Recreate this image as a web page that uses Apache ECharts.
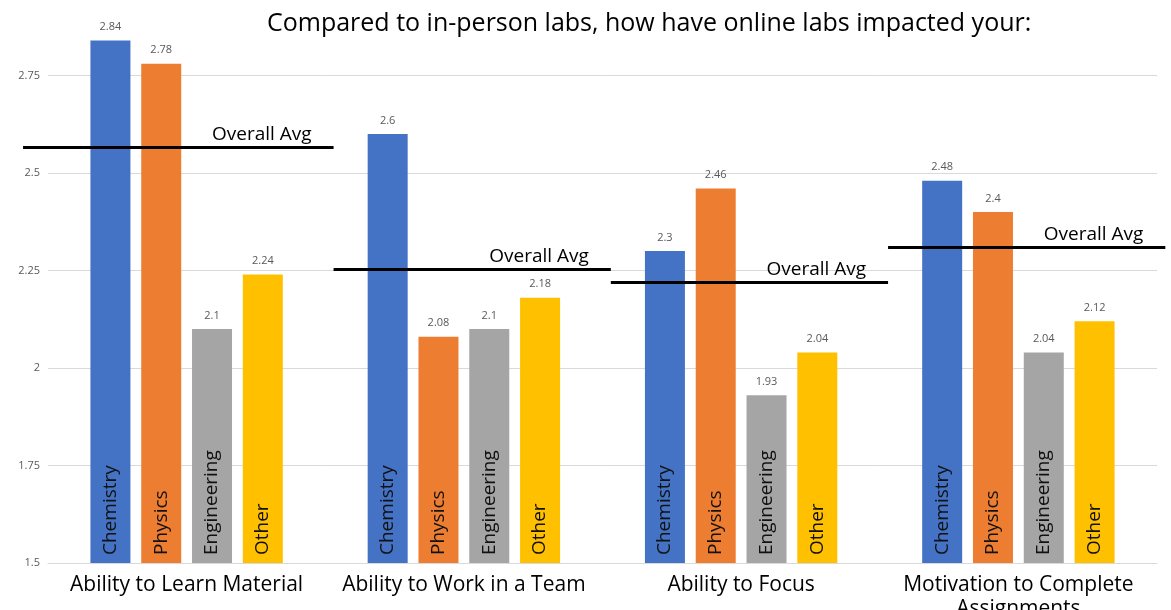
<!DOCTYPE html>
<html>
<head>
<meta charset="utf-8">
<script src="https://cdn.jsdelivr.net/npm/echarts@6/dist/echarts.min.js"></script>
<style>
  html, body { margin: 0; padding: 0; background: #fff; }
  #main { width: 1171px; height: 610px; }
</style>
</head>
<body>
<div id="main"></div>
<script>
// categories and values
var questions = ['Ability to Learn Material', 'Ability to Work in a Team', 'Ability to Focus', 'Motivation to Complete\nAssignments'];
var subjects = ['Chemistry', 'Physics', 'Engineering', 'Other'];
var chemistry = [2.84, 2.6, 2.3, 2.48];
var physics = [2.78, 2.08, 2.46, 2.4];
var engineering = [2.1, 2.1, 1.93, 2.04];
var other = [2.24, 2.18, 2.04, 2.12];
var overallAvg = [2.566, 2.253, 2.22, 2.31];
var yTicks = [1.5, 1.75, 2, 2.25, 2.5, 2.75];

var colors = ['#4472C4', '#ED7D31', '#A5A5A5', '#FFC000'];
var font = 'Open Sans';

var W = 1171;
var gridLeft = 48, gridRight = 14, gridTop = 17, gridBottom = 47;
var yMax = 2.9;

var myChart = echarts.init(document.getElementById('main'));

var values = [chemistry, physics, engineering, other];
var series = [];
for (var s = 0; s < subjects.length; s++) {
    series.push({
        name: subjects[s],
        type: 'bar',
        barWidth: 40,
        barGap: '27%',
        itemStyle: { color: colors[s] },
        label: {
            show: true,
            position: 'insideBottom',
            rotate: 90,
            align: 'left',
            verticalAlign: 'middle',
            distance: 8,
            formatter: '{a}',
            fontFamily: font,
            fontSize: 19,
            color: '#111'
        },
        markPoint: {
            symbol: 'rect',
            symbolSize: 0,
            label: {
                show: true,
                position: 'top',
                distance: 8,
                fontFamily: font,
                fontSize: 11,
                color: '#595959'
            },
            data: values[s].map(function (v, i) {
                return { coord: [i, v], value: v };
            })
        },
        data: values[s]
    });
}

// overall average lines: a full-width helper grid whose x units match the categories
var catW = (W - gridLeft - gridRight) / questions.length;
var helperMin = -gridLeft / catW;
var helperMax = helperMin + W / catW;

var avgLines = overallAvg.map(function (v, i) {
    var x0 = i === 0 ? -0.09 : i + 0.03;
    var x1 = Math.min(i + 1.03, 4.04);
    return [{ coord: [x0, v] }, { coord: [x1, v] }];
});
series.push({
    name: 'avg',
    type: 'line',
    xAxisIndex: 1,
    yAxisIndex: 1,
    data: [],
    silent: true,
    markLine: {
        symbol: 'none',
        silent: true,
        animation: false,
        lineStyle: { color: '#000', width: 3, type: 'solid' },
        label: {
            show: true,
            position: 'insideEndTop',
            distance: [22, 3],
            formatter: 'Overall Avg',
            fontFamily: font,
            fontSize: 19,
            color: '#000'
        },
        data: avgLines
    }
});

option = {
    animation: false,
    title: {
        text: 'Compared to in-person labs, how have online labs impacted your:',
        left: 262,
        top: 6,
        textStyle: { fontFamily: font, fontSize: 25, fontWeight: 'normal', color: '#000' }
    },
    grid: [{
        left: gridLeft,
        right: gridRight,
        top: gridTop,
        bottom: gridBottom,
        outerBoundsMode: 'none',
        containLabel: false
    }, {
        left: 0,
        right: 0,
        top: gridTop,
        bottom: gridBottom,
        outerBoundsMode: 'none',
        containLabel: false
    }],
    xAxis: [{
        type: 'category',
        gridIndex: 0,
        data: questions,
        axisLine: { show: true, lineStyle: { color: '#d9d9d9' } },
        axisTick: { show: false },
        axisLabel: {
            margin: 10,
            fontFamily: font,
            fontSize: 21,
            lineHeight: 24,
            color: '#000',
            interval: 0
        }
    }, {
        type: 'value',
        gridIndex: 1,
        min: helperMin,
        max: helperMax,
        show: false
    }],
    yAxis: [{
        type: 'value',
        gridIndex: 0,
        min: yTicks[0],
        max: yMax,
        interval: 0.25,
        axisLine: { show: false },
        axisTick: { show: false },
        splitLine: { showMaxLine: false, lineStyle: { color: '#d9d9d9' } },
        axisLabel: { showMaxLabel: false, fontFamily: font, fontSize: 11, color: '#595959', margin: 8 }
    }, {
        type: 'value',
        gridIndex: 1,
        min: yTicks[0],
        max: yMax,
        show: false
    }],
    series: series
};
myChart.setOption(option);
</script>
</body>
</html>
